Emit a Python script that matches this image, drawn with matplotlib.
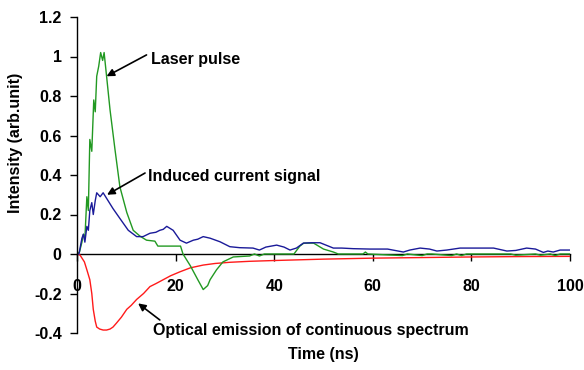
import matplotlib
matplotlib.use("Agg")
import matplotlib.pyplot as plt

plt.rcParams['font.family'] = ['Liberation Sans', 'DejaVu Sans']

# Laser pulse (green)
laser_t = [0, 0.5, 1.0, 1.3, 1.6, 2.0, 2.3, 2.6, 3.0, 3.4, 3.7, 4.0, 4.4, 4.8, 5.2, 5.5,
           6.0, 6.7, 7.7, 8.7, 10.1, 11.4, 12.8, 14.1, 15.8, 16.4, 21.0, 21.5, 23.0, 24.5,
           25.6, 26.5, 27.0, 28.3, 29.6, 31.7, 35.0, 36.0, 37.0, 38.0, 40.0, 44.0, 45.2,
           46.0, 48.0, 49.0, 50.0, 52.0, 53.0, 58.0, 58.5, 59.0, 66.0, 67.0, 70.0, 71.0,
           72.0, 76.0, 77.0, 78.0, 79.0, 88.0, 89.0, 93.0, 94.0, 96.0, 97.0, 98.0, 100.0]
laser_v = [0, 0.01, 0.06, 0.10, 0.08, 0.29, 0.22, 0.58, 0.52, 0.78, 0.72, 0.90, 0.95, 1.02,
           0.98, 1.02, 0.90, 0.73, 0.53, 0.34, 0.21, 0.12, 0.09, 0.07, 0.065, 0.04, 0.04,
           0.0, -0.06, -0.13, -0.18, -0.16, -0.13, -0.08, -0.04, -0.015, -0.01, 0.0,
           -0.01, 0.0, 0.0, 0.0, 0.04, 0.055, 0.055, 0.04, 0.025, 0.01, 0.0, 0.0, 0.01,
           0.0, -0.008, 0.0, -0.008, 0.0, 0.0, -0.008, 0.0, -0.008, 0.0, 0.0, -0.006,
           0.0, -0.006, 0.0, -0.008, 0.0, 0.0]

# Induced current signal (blue)
current_t = [0, 0.4, 1.0, 1.3, 1.6, 2.0, 2.3, 2.6, 3.0, 3.3, 3.7, 4.0, 4.7, 5.3, 6.3,
             7.3, 8.7, 10.4, 12.1, 13.4, 14.8, 16.0, 16.8, 17.5, 18.2, 19.5, 20.9, 22.2,
             23.6, 24.5, 25.6, 27.0, 29.0, 31.0, 33.0, 35.7, 37.0, 38.3, 40.5, 42.0,
             43.2, 44.5, 45.9, 47.5, 49.3, 50.5, 52.0, 53.7, 56.0, 59.4, 63.0, 66.2,
             67.5, 69.6, 71.5, 73.0, 75.0, 77.7, 81.0, 84.5, 87.2, 89.0, 91.2, 93.0,
             94.6, 95.5, 96.6, 98.0, 100.0]
current_v = [0, 0.0, 0.08, 0.10, 0.06, 0.14, 0.12, 0.22, 0.26, 0.20, 0.27, 0.31, 0.29,
             0.31, 0.27, 0.23, 0.18, 0.12, 0.088, 0.088, 0.105, 0.11, 0.12, 0.125, 0.14,
             0.12, 0.07, 0.055, 0.07, 0.075, 0.088, 0.08, 0.062, 0.037, 0.032, 0.03,
             0.02, 0.035, 0.045, 0.035, 0.02, 0.03, 0.055, 0.057, 0.057, 0.045, 0.03,
             0.03, 0.027, 0.025, 0.025, 0.01, 0.02, 0.03, 0.025, 0.015, 0.02, 0.03,
             0.03, 0.03, 0.015, 0.018, 0.03, 0.025, 0.008, 0.015, 0.01, 0.02, 0.02]

# Optical emission of continuous spectrum (red)
optical_t = [0, 0.6, 1.5, 2.0, 2.6, 3.0, 3.3, 3.7, 4.0, 4.6, 5.3, 6.0, 6.7, 7.3, 8.0,
             9.0, 10.1, 11.0, 12.1, 13.5, 14.8, 16.0, 17.5, 19.0, 20.9, 23.0, 25.6,
             28.0, 31.0, 35.0, 40.0, 50.0, 60.0, 70.0, 80.0, 90.0, 100.0]
optical_v = [0, -0.005, -0.04, -0.08, -0.13, -0.20, -0.28, -0.34, -0.37, -0.38, -0.385,
             -0.385, -0.38, -0.37, -0.35, -0.32, -0.28, -0.26, -0.23, -0.20, -0.165,
             -0.15, -0.13, -0.11, -0.09, -0.07, -0.056, -0.048, -0.042, -0.037, -0.033,
             -0.026, -0.021, -0.018, -0.015, -0.013, -0.012]

x_ticks = [0, 20, 40, 60, 80, 100]
y_ticks = [-0.4, -0.2, 0, 0.2, 0.4, 0.6, 0.8, 1, 1.2]
y_labels = ['-0.4', '-0.2', '0', '0.2', '0.4', '0.6', '0.8', '1', '1.2']

fig = plt.figure(figsize=(5.84, 3.70), dpi=100)
ax = fig.add_axes([77 / 584, 1 - 333 / 370, 493 / 584, 316 / 370])

ax.plot(optical_t, optical_v, color='#ff1a1a', lw=1.0)
ax.plot(laser_t, laser_v, color='#229922', lw=1.0)
ax.plot(current_t, current_v, color='#1a1a99', lw=1.0)

ax.set_xlim(0, 100)
ax.set_ylim(-0.4, 1.2)
ax.spines['top'].set_visible(False)
ax.spines['right'].set_visible(False)
ax.spines['bottom'].set_position(('data', 0))
ax.spines['bottom'].set_zorder(0)
for s in ('left', 'bottom'):
    ax.spines[s].set_linewidth(1.0)
    ax.spines[s].set_color('black')

ax.set_xticks(x_ticks)
ax.set_yticks(y_ticks)
ax.set_yticklabels(y_labels)
ax.tick_params(axis='x', direction='out', length=5, width=1, pad=13,
               labelsize=11.5)
ax.tick_params(axis='y', direction='out', length=5, width=1, pad=6,
               labelsize=11.5)
for lab in ax.get_xticklabels() + ax.get_yticklabels():
    lab.set_fontweight('bold')

ax.set_xlabel('Time (ns)', fontsize=11.5, fontweight='bold')
ax.xaxis.set_label_coords(0.5, -0.044)
ax.set_ylabel('Intensity (arb.unit)', fontsize=11.5, fontweight='bold')
ax.yaxis.set_label_coords(-0.11, 0.603)

arrow = dict(arrowstyle='-|>', color='black', lw=1.2, mutation_scale=11,
             shrinkA=0, shrinkB=0)
ax.annotate('', xy=(6.0, 0.90), xytext=(14.1, 1.008), arrowprops=arrow)
ax.text(15.0, 0.985, 'Laser pulse', fontsize=11.5, fontweight='bold',
        ha='left', va='center')
ax.annotate('', xy=(6.1, 0.30), xytext=(13.8, 0.41), arrowprops=arrow)
ax.text(14.5, 0.39, 'Induced current signal', fontsize=11.5, fontweight='bold',
        ha='left', va='center')
ax.annotate('', xy=(12.4, -0.25), xytext=(16.8, -0.334), arrowprops=arrow)
ax.text(15.4, -0.385, 'Optical emission of continuous spectrum', fontsize=11.5,
        fontweight='bold', ha='left', va='center')

fig.savefig('out.png', dpi=100)
